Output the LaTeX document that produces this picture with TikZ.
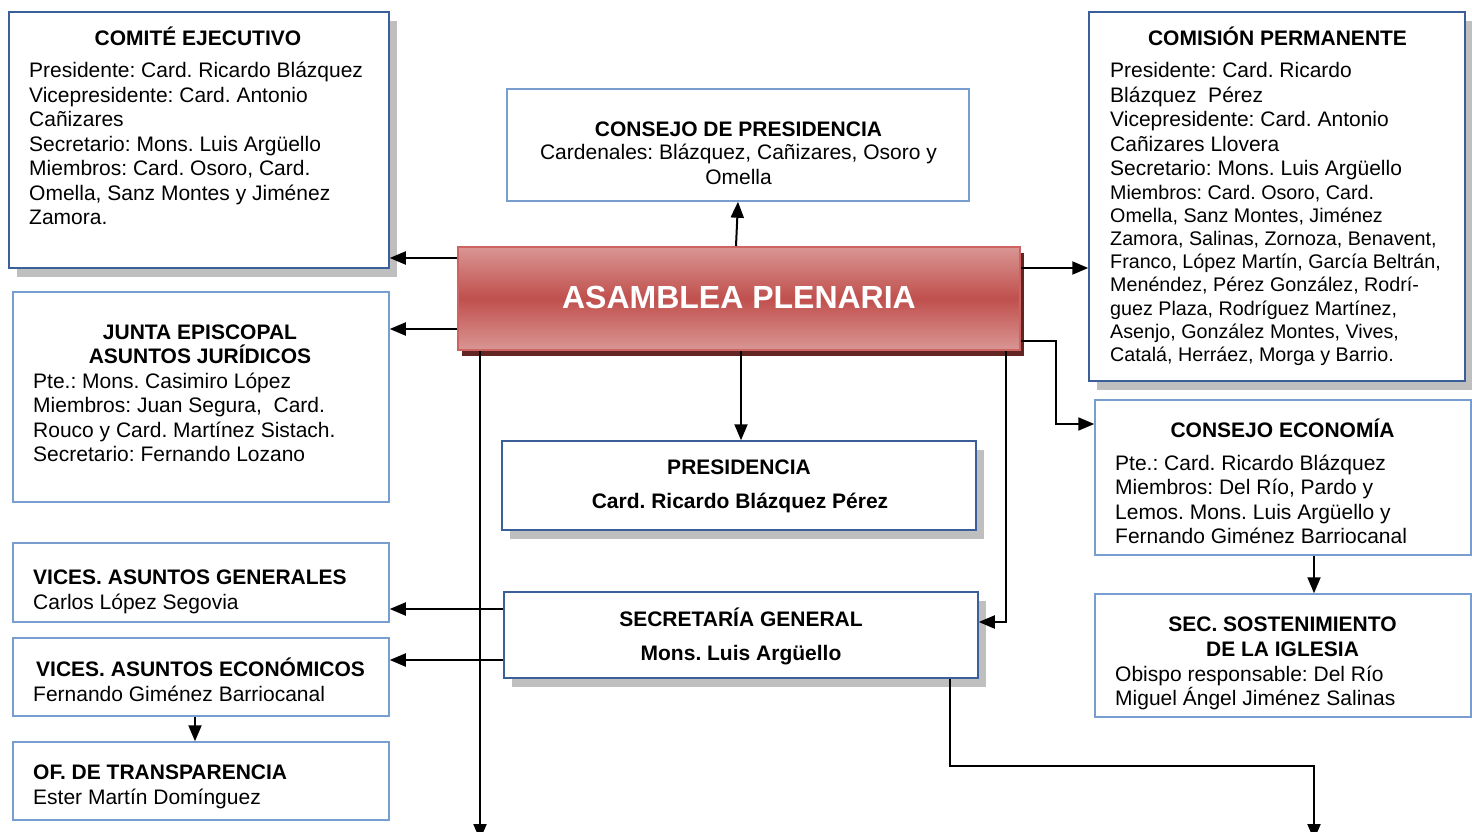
\documentclass[tikz,border=0pt]{standalone}
\usepackage{fontspec}
\setmainfont{Liberation Sans}
\usetikzlibrary{arrows.meta,fit,calc,shadows}
\definecolor{bdark}{RGB}{58,95,153}
\definecolor{blight}{RGB}{120,157,207}
\definecolor{shgray}{RGB}{191,191,191}
\definecolor{plmid}{RGB}{192,80,77}
\definecolor{pllight}{RGB}{217,150,148}
\definecolor{plborder}{RGB}{205,100,97}
\definecolor{plshadow}{RGB}{99,37,35}
\newcommand{\bodyleft}[1]{\parbox[t]{420pt}{\raggedright #1}}
\frenchspacing
\begin{document}
\begin{tikzpicture}[x=1pt,y=-1pt,
  bx/.style={draw=#1, line width=1.5pt, fill=white, inner sep=0pt},
  gsh/.style={drop shadow={shadow xshift=8pt, shadow yshift=-9pt, fill=shgray, opacity=1}},
  conn/.style={line width=2pt, -{Triangle[length=16pt,width=13pt]}},
  txt/.style={inner sep=0pt, font=\fontsize{21}{24.5}\selectfont},
  txts/.style={inner sep=0pt, font=\fontsize{19.7}{23.1}\selectfont},
  plen/.style={draw=plborder, line width=2pt, inner sep=0pt,
    top color=pllight, bottom color=pllight, middle color=plmid,
    drop shadow={shadow xshift=4pt, shadow yshift=-6pt, fill=plshadow, opacity=1},
    text=white, font=\bfseries\fontsize{32}{38}\selectfont}]
\useasboundingbox (0,0) rectangle (1472,832);

% boxes
\node[bx=bdark, gsh, fit={(9,12) (389,268)}] (ce) {};
\node[bx=blight, fit={(13,292) (389,502)}] (ja) {};
\node[bx=blight, fit={(13,543) (389,622)}] (vg) {};
\node[bx=blight, fit={(13,638) (389,716)}] (ve) {};
\node[bx=blight, fit={(13,742) (389,820)}] (ot) {};
\node[bx=blight, fit={(507,89) (969,201)}] (cp) {};
\node[bx=bdark, gsh, fit={(502,441) (976,530)}] (pr) {};
\node[bx=bdark, gsh, fit={(504,592) (978,678)}] (sg) {};
\node[bx=bdark, gsh, fit={(1089,12) (1465,381)}] (cm) {};
\node[bx=blight, fit={(1095,400) (1471,555)}] (cec) {};
\node[bx=blight, fit={(1095,594) (1471,717)}] (ss) {};
\node[plen, fit={(458,247) (1020,350)}] (pl) {};
\node[text=white, font=\bfseries\fontsize{32}{38}\selectfont, inner sep=0pt] (plt) at (739,297) {ASAMBLEA PLENARIA};

% texts
\node[txt, anchor=base] (t1) at (198,46) {\bfseries COMITÉ EJECUTIVO};
\node[txt, anchor=base west] (t2) at (29,78) {\bodyleft{Presidente: Card. Ricardo Blázquez\\
Vicepresidente: Card. Antonio\\
Cañizares\\
Secretario: Mons. Luis Argüello\\
Miembros: Card. Osoro, Card.\\
Omella, Sanz Montes y Jiménez\\
Zamora.}};

\node[txt, anchor=base] (t3) at (200,339) {\bfseries JUNTA EPISCOPAL};
\node[txt, anchor=base] (t4) at (200,363) {\bfseries ASUNTOS JURÍDICOS};
\node[txt, anchor=base west] (t5) at (33,388) {\bodyleft{Pte.: Mons. Casimiro López\\
Miembros: Juan Segura,\ \ Card.\\
Rouco y Card. Martínez Sistach.\\
Secretario: Fernando Lozano}};

\node[txt, anchor=base west] (t6) at (33,584) {\bfseries VICES. ASUNTOS GENERALES};
\node[txt, anchor=base west] (t7) at (33,609) {Carlos López Segovia};
\node[txt, anchor=base west] (t8) at (36,676) {\bfseries VICES. ASUNTOS ECONÓMICOS};
\node[txt, anchor=base west] (t9) at (33,701) {Fernando Giménez Barriocanal};
\node[txt, anchor=base west] (t10) at (33,779) {\bfseries OF. DE TRANSPARENCIA};
\node[txt, anchor=base west] (t11) at (33,804) {Ester Martín Domínguez};

\node[txt, anchor=base] (t12) at (738.5,136) {\bfseries CONSEJO DE PRESIDENCIA};
\node[txt, anchor=base] (t13) at (738.5,160) {Cardenales: Blázquez, Cañizares, Osoro y};
\node[txt, anchor=base] (t14) at (738.5,184) {Omella};

\node[txt, anchor=base] (t15) at (739,474) {\bfseries PRESIDENCIA};
\node[txt, anchor=base] (t16) at (740,508) {\bfseries Card. Ricardo Blázquez Pérez};
\node[txt, anchor=base] (t17) at (741,626) {\bfseries SECRETARÍA GENERAL};
\node[txt, anchor=base] (t18) at (741,660) {\bfseries Mons. Luis Argüello};

\node[txt, anchor=base] (t19) at (1277.5,46) {\bfseries COMISIÓN PERMANENTE};
\node[txt, anchor=base west] (t20) at (1110,78) {\bodyleft{Presidente: Card. Ricardo\\
Blázquez\ \ Pérez\\
Vicepresidente: Card. Antonio\\
Cañizares Llovera\\
Secretario: Mons. Luis Argüello}};
\node[txts, anchor=base west] (t21) at (1110,199.5) {\bodyleft{Miembros: Card. Osoro, Card.\\
Omella, Sanz Montes, Jiménez\\
Zamora, Salinas, Zornoza, Benavent,\\
Franco, López Martín, García Beltrán,\\
Menéndez, Pérez González, Rodrí-\\
guez Plaza, Rodríguez Martínez,\\
Asenjo, González Montes, Vives,\\
Catalá, Herráez, Morga y Barrio.}};

\node[txt, anchor=base] (t22) at (1282.5,437) {\bfseries CONSEJO ECONOMÍA};
\node[txt, anchor=base west] (t23) at (1115,470) {\bodyleft{Pte.: Card. Ricardo Blázquez\\
Miembros: Del Río, Pardo y\\
Lemos. Mons. Luis Argüello y\\
Fernando Giménez Barriocanal}};

\node[txt, anchor=base] (t24) at (1282.5,631) {\bfseries SEC. SOSTENIMIENTO};
\node[txt, anchor=base] (t25) at (1282.5,656) {\bfseries DE LA IGLESIA};
\node[txt, anchor=base west] (t26) at (1115,681) {\bodyleft{Obispo responsable: Del Río\\
Miguel Ángel Jiménez Salinas}};

% connectors
\coordinate (endL) at (480,840);
\coordinate (endR) at (1314,840);
\draw[conn] (pl.west |- 0,258) -- (ce.east |- 0,258);
\draw[conn] (pl.west |- 0,329) -- (ja.east |- 0,329);
\draw[conn] (pl.north -| 736,0) -- (cp.south);
\draw[conn] (pl.south -| 741,0) -- (pr.north -| 741,0);
\draw[conn] (pl.east |- 0,268) -- (cm.west |- 0,268);
\draw[conn] (pl.east |- 0,341) -- (1056,341) -- (1056,424) -- (cec.west |- 0,424);
\draw[conn] (pl.south -| 1006,0) -- (1006,622) -- (sg.east |- 0,622);
\draw[conn] (pl.south -| 480,0) -- (endL);
\draw[conn] (sg.west |- 0,609) -- (vg.east |- 0,609);
\draw[conn] (sg.west |- 0,660) -- (ve.east |- 0,660);
\draw[conn] (ve.south -| 195,0) -- (ot.north -| 195,0);
\draw[conn] (cec.south -| 1314,0) -- (ss.north -| 1314,0);
\draw[conn] (sg.south -| 950,0) -- (950,766) -- (1314,766) -- (endR);
\end{tikzpicture}
\end{document}
